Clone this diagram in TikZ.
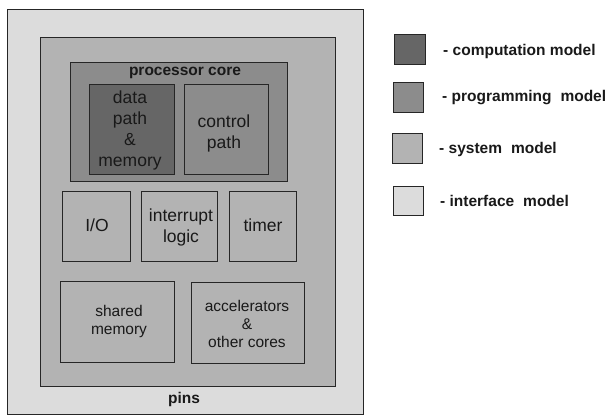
\documentclass[tikz,border=0pt]{standalone}
\usepackage{fontspec}
\setmainfont{Liberation Sans}
\definecolor{interfacecol}{HTML}{DCDCDC}
\definecolor{systemcol}{HTML}{B3B3B3}
\definecolor{progcol}{HTML}{8C8C8C}
\definecolor{compcol}{HTML}{666666}
\definecolor{edgecol}{HTML}{262626}
\tikzset{
  blk/.style={draw=edgecol, line width=0.9pt, inner sep=0pt, outer sep=0pt, anchor=north west},
  lbl/.style={align=center, inner sep=0pt, text=black!90},
  bigtxt/.style={lbl, font=\fontsize{17.5}{21}\selectfont},
  midtxt/.style={lbl, font=\fontsize{15.5}{18}\selectfont},
  boldtxt/.style={lbl, font=\fontsize{15.5}{18}\selectfont\bfseries},
  legtxt/.style={inner sep=0pt, anchor=west, text=black!90, font=\fontsize{15.5}{18}\selectfont\bfseries},
}
\begin{document}
\begin{tikzpicture}[x=1pt, y=-1pt]
\useasboundingbox (0,0) rectangle (610,415);

% nested blocks of the SoC
\node[blk, fill=interfacecol, minimum width=356pt, minimum height=405pt] (pinsbox) at (7,9) {};
\node[blk, fill=systemcol, minimum width=295pt, minimum height=349pt] (sysbox) at (40,37) {};
\node[blk, fill=progcol, minimum width=217pt, minimum height=119pt] (core) at (70,62) {};
\node[blk, fill=compcol, minimum width=85pt, minimum height=90pt] (dpath) at (89,84) {};
\node[blk, fill=progcol, minimum width=84pt, minimum height=90pt] (cpath) at (184,84) {};
\node[blk, fill=systemcol, minimum width=68pt, minimum height=70pt] (io) at (62,191) {};
\node[blk, fill=systemcol, minimum width=76pt, minimum height=70pt] (intr) at (141,191) {};
\node[blk, fill=systemcol, minimum width=67pt, minimum height=70pt] (timer) at (229,191) {};
\node[blk, fill=systemcol, minimum width=114pt, minimum height=81pt] (shmem) at (60,281) {};
\node[blk, fill=systemcol, minimum width=113pt, minimum height=81pt] (accel) at (191,282) {};

% block labels
\node[boldtxt] (corelbl) at (185,73) {processor core};
\node[bigtxt] (dpathlbl) at (130,130) {data\\path\\\&\\memory};
\node[bigtxt] (cpathlbl) at (224,133) {control\\path};
\node[bigtxt] (iolbl) at (97,225) {I/O};
\node[bigtxt] (intrlbl) at (181,227) {interrupt\\logic};
\node[bigtxt] (timerlbl) at (263,225) {timer};
\node[midtxt] (shmemlbl) at (119,321) {shared\\memory};
\node[midtxt] (accellbl) at (247,324) {accelerators\\\&\\other cores};
\node[boldtxt] (pinslbl) at (184,399) {pins};

% legend
\node[blk, fill=compcol, minimum width=31pt, minimum height=30pt] (legA) at (394,34) {};
\node[blk, fill=progcol, minimum width=30pt, minimum height=30pt] (legB) at (393,82) {};
\node[blk, fill=systemcol, minimum width=30pt, minimum height=30pt] (legC) at (392,133) {};
\node[blk, fill=interfacecol, minimum width=30pt, minimum height=29pt] (legD) at (393,186) {};
\node[legtxt] (legAt) at (443,51) {- computation model};
\node[legtxt] (legBt) at (442,98) {- programming\hspace{0.3em} model};
\node[legtxt] (legCt) at (439,149) {- system\hspace{0.3em} model};
\node[legtxt] (legDt) at (440,201) {- interface\hspace{0.3em} model};
\end{tikzpicture}
\end{document}
